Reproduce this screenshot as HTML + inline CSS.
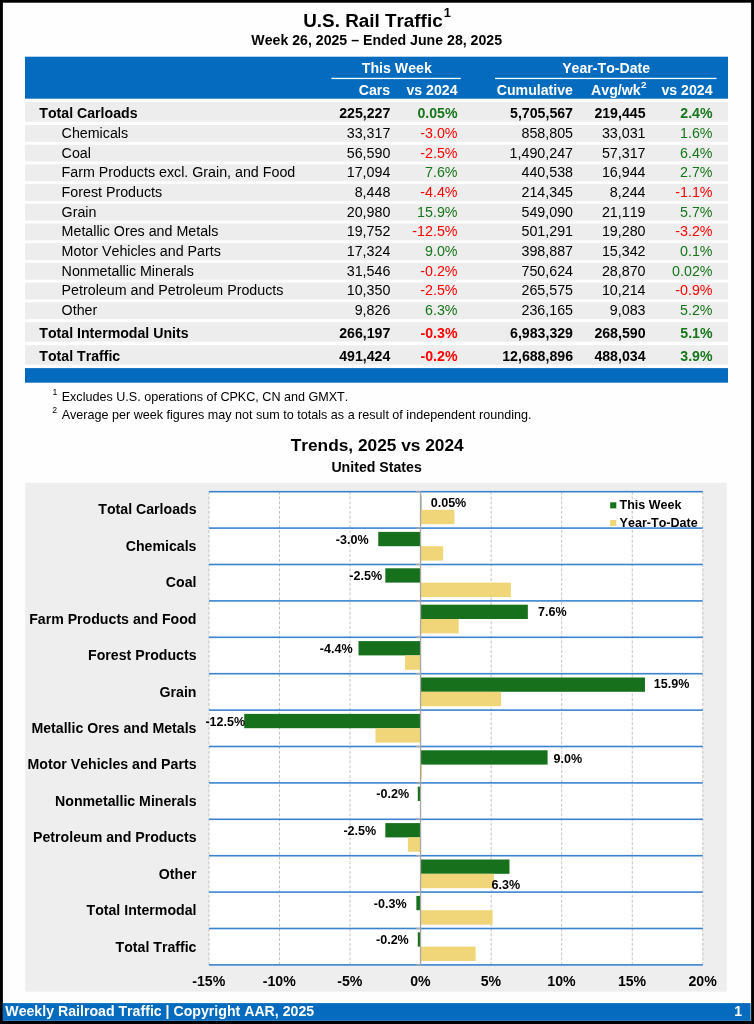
<!DOCTYPE html>
<html><head><meta charset="utf-8"><title>U.S. Rail Traffic</title>
<style>
html,body{margin:0;padding:0;}
body{width:754px;height:1024px;position:relative;overflow:hidden;background:#fefefe;font-family:"Liberation Sans",sans-serif;}
.t{position:absolute;white-space:nowrap;font-kerning:none;}
#txt{position:absolute;left:0;top:0;width:754px;height:1024px;will-change:transform;}
sup{font-size:62%;vertical-align:baseline;position:relative;top:-0.5em;line-height:0;}
</style></head><body>
<svg width="754" height="1024" viewBox="0 0 754 1024" style="position:absolute;left:0;top:0">
<rect x="0.00" y="0.00" width="754.00" height="2.70" fill="#000"/>
<rect x="0.00" y="0.00" width="2.90" height="1024.00" fill="#000"/>
<rect x="751.10" y="0.00" width="2.90" height="1024.00" fill="#000"/>
<rect x="0.00" y="1020.80" width="754.00" height="3.20" fill="#000"/>
<rect x="25.00" y="56.70" width="703.00" height="42.00" fill="#046bbf"/>
<rect x="331.40" y="77.80" width="129.40" height="1.30" fill="#fff"/>
<rect x="495.00" y="77.80" width="221.50" height="1.30" fill="#fff"/>
<rect x="25.00" y="102.00" width="703.00" height="19.80" fill="#ededed"/>
<rect x="25.00" y="125.00" width="703.00" height="16.80" fill="#ededed"/>
<rect x="25.00" y="144.70" width="703.00" height="16.80" fill="#ededed"/>
<rect x="25.00" y="164.40" width="703.00" height="16.80" fill="#ededed"/>
<rect x="25.00" y="184.10" width="703.00" height="16.80" fill="#ededed"/>
<rect x="25.00" y="203.80" width="703.00" height="16.80" fill="#ededed"/>
<rect x="25.00" y="223.50" width="703.00" height="16.80" fill="#ededed"/>
<rect x="25.00" y="243.20" width="703.00" height="16.80" fill="#ededed"/>
<rect x="25.00" y="262.90" width="703.00" height="16.80" fill="#ededed"/>
<rect x="25.00" y="282.60" width="703.00" height="16.80" fill="#ededed"/>
<rect x="25.00" y="302.30" width="703.00" height="16.80" fill="#ededed"/>
<rect x="25.00" y="322.20" width="703.00" height="19.50" fill="#ededed"/>
<rect x="25.00" y="345.20" width="703.00" height="19.50" fill="#ededed"/>
<rect x="25.00" y="368.10" width="703.00" height="14.60" fill="#046bbf"/>
<rect x="25.20" y="482.80" width="701.60" height="508.90" fill="#eeeeee"/>
<rect x="208.95" y="491.70" width="493.85" height="473.20" fill="#fff"/>
<line x1="208.95" y1="491.70" x2="208.95" y2="964.90" stroke="#c2c2c2" stroke-width="1" stroke-dasharray="3 1.8"/>
<line x1="279.50" y1="491.70" x2="279.50" y2="964.90" stroke="#c2c2c2" stroke-width="1" stroke-dasharray="3 1.8"/>
<line x1="350.05" y1="491.70" x2="350.05" y2="964.90" stroke="#c2c2c2" stroke-width="1" stroke-dasharray="3 1.8"/>
<line x1="491.15" y1="491.70" x2="491.15" y2="964.90" stroke="#c2c2c2" stroke-width="1" stroke-dasharray="3 1.8"/>
<line x1="561.70" y1="491.70" x2="561.70" y2="964.90" stroke="#c2c2c2" stroke-width="1" stroke-dasharray="3 1.8"/>
<line x1="632.25" y1="491.70" x2="632.25" y2="964.90" stroke="#c2c2c2" stroke-width="1" stroke-dasharray="3 1.8"/>
<line x1="702.80" y1="491.70" x2="702.80" y2="964.90" stroke="#c2c2c2" stroke-width="1" stroke-dasharray="3 1.8"/>
<rect x="208.95" y="490.90" width="493.85" height="1.60" fill="#3a83d0"/>
<rect x="208.95" y="527.30" width="493.85" height="1.60" fill="#3a83d0"/>
<rect x="208.95" y="563.70" width="493.85" height="1.60" fill="#3a83d0"/>
<rect x="208.95" y="600.10" width="493.85" height="1.60" fill="#3a83d0"/>
<rect x="208.95" y="636.50" width="493.85" height="1.60" fill="#3a83d0"/>
<rect x="208.95" y="672.90" width="493.85" height="1.60" fill="#3a83d0"/>
<rect x="208.95" y="709.30" width="493.85" height="1.60" fill="#3a83d0"/>
<rect x="208.95" y="745.70" width="493.85" height="1.60" fill="#3a83d0"/>
<rect x="208.95" y="782.10" width="493.85" height="1.60" fill="#3a83d0"/>
<rect x="208.95" y="818.50" width="493.85" height="1.60" fill="#3a83d0"/>
<rect x="208.95" y="854.90" width="493.85" height="1.60" fill="#3a83d0"/>
<rect x="208.95" y="891.30" width="493.85" height="1.60" fill="#3a83d0"/>
<rect x="208.95" y="927.70" width="493.85" height="1.60" fill="#3a83d0"/>
<rect x="208.95" y="964.10" width="493.85" height="1.60" fill="#3a83d0"/>
<rect x="420.60" y="495.50" width="0.71" height="14.30" fill="#16701c"/>
<rect x="420.60" y="509.80" width="33.86" height="14.40" fill="#f0d678"/>
<rect x="378.27" y="531.90" width="42.33" height="14.30" fill="#16701c"/>
<rect x="420.60" y="546.20" width="22.58" height="14.40" fill="#f0d678"/>
<rect x="385.33" y="568.30" width="35.27" height="14.30" fill="#16701c"/>
<rect x="420.60" y="582.60" width="90.30" height="14.40" fill="#f0d678"/>
<rect x="420.60" y="604.70" width="107.24" height="14.30" fill="#16701c"/>
<rect x="420.60" y="619.00" width="38.10" height="14.40" fill="#f0d678"/>
<rect x="358.52" y="641.10" width="62.08" height="14.30" fill="#16701c"/>
<rect x="405.08" y="655.40" width="15.52" height="14.40" fill="#f0d678"/>
<rect x="420.60" y="677.50" width="224.35" height="14.30" fill="#16701c"/>
<rect x="420.60" y="691.80" width="80.43" height="14.40" fill="#f0d678"/>
<rect x="244.23" y="713.90" width="176.38" height="14.30" fill="#16701c"/>
<rect x="375.45" y="728.20" width="45.15" height="14.40" fill="#f0d678"/>
<rect x="420.60" y="750.30" width="126.99" height="14.30" fill="#16701c"/>
<rect x="420.60" y="764.60" width="1.41" height="14.40" fill="#f0d678"/>
<rect x="417.78" y="786.70" width="2.82" height="14.30" fill="#16701c"/>
<rect x="420.60" y="801.00" width="0.28" height="14.40" fill="#f0d678"/>
<rect x="385.33" y="823.10" width="35.27" height="14.30" fill="#16701c"/>
<rect x="407.90" y="837.40" width="12.70" height="14.40" fill="#f0d678"/>
<rect x="420.60" y="859.50" width="88.89" height="14.30" fill="#16701c"/>
<rect x="420.60" y="873.80" width="73.37" height="14.40" fill="#f0d678"/>
<rect x="416.37" y="895.90" width="4.23" height="14.30" fill="#16701c"/>
<rect x="420.60" y="910.20" width="71.96" height="14.40" fill="#f0d678"/>
<rect x="417.78" y="932.30" width="2.82" height="14.30" fill="#16701c"/>
<rect x="420.60" y="946.60" width="55.03" height="14.40" fill="#f0d678"/>
<rect x="419.90" y="491.70" width="1.30" height="473.20" fill="#a6a6a6"/>
<rect x="416.10" y="491.10" width="4.50" height="1.20" fill="#a6a6a6"/>
<rect x="416.10" y="527.50" width="4.50" height="1.20" fill="#a6a6a6"/>
<rect x="416.10" y="563.90" width="4.50" height="1.20" fill="#a6a6a6"/>
<rect x="416.10" y="600.30" width="4.50" height="1.20" fill="#a6a6a6"/>
<rect x="416.10" y="636.70" width="4.50" height="1.20" fill="#a6a6a6"/>
<rect x="416.10" y="673.10" width="4.50" height="1.20" fill="#a6a6a6"/>
<rect x="416.10" y="709.50" width="4.50" height="1.20" fill="#a6a6a6"/>
<rect x="416.10" y="745.90" width="4.50" height="1.20" fill="#a6a6a6"/>
<rect x="416.10" y="782.30" width="4.50" height="1.20" fill="#a6a6a6"/>
<rect x="416.10" y="818.70" width="4.50" height="1.20" fill="#a6a6a6"/>
<rect x="416.10" y="855.10" width="4.50" height="1.20" fill="#a6a6a6"/>
<rect x="416.10" y="891.50" width="4.50" height="1.20" fill="#a6a6a6"/>
<rect x="416.10" y="927.90" width="4.50" height="1.20" fill="#a6a6a6"/>
<rect x="416.10" y="964.30" width="4.50" height="1.20" fill="#a6a6a6"/>
<rect x="610.20" y="502.30" width="6.10" height="6.10" fill="#16701c"/>
<rect x="610.20" y="520.00" width="6.10" height="6.10" fill="#f0d678"/>
<rect x="2.90" y="1003.10" width="747.70" height="17.70" fill="#046bbf"/>
</svg>
<div id="txt">
<div class="t" style="top:10.48px;font-size:18.87px;line-height:22.64px;color:#000;font-weight:bold;left:177.00px;width:400px;text-align:center;">U.S. Rail Traffic<sup style="font-size:68%;top:-0.83em;margin-left:1px">1</sup></div>
<div class="t" style="top:31.81px;font-size:14.15px;line-height:16.98px;color:#000;font-weight:bold;left:176.70px;width:400px;text-align:center;">Week 26, 2025 – Ended June 28, 2025</div>
<div class="t" style="top:59.81px;font-size:14.15px;line-height:16.98px;color:#fff;font-weight:bold;left:196.80px;width:400px;text-align:center;">This Week</div>
<div class="t" style="top:59.81px;font-size:14.15px;line-height:16.98px;color:#fff;font-weight:bold;left:406.20px;width:400px;text-align:center;">Year-To-Date</div>
<div class="t" style="top:81.81px;font-size:14.15px;line-height:16.98px;color:#fff;font-weight:bold;right:363.80px;text-align:right;">Cars</div>
<div class="t" style="top:81.81px;font-size:14.15px;line-height:16.98px;color:#fff;font-weight:bold;right:296.50px;text-align:right;">vs 2024</div>
<div class="t" style="top:81.81px;font-size:14.15px;line-height:16.98px;color:#fff;font-weight:bold;right:181.00px;text-align:right;">Cumulative</div>
<div class="t" style="top:81.81px;font-size:14.15px;line-height:16.98px;color:#fff;font-weight:bold;right:107.40px;text-align:right;">Avg/wk<sup style="font-size:70%;top:-0.64em;margin-left:0.5px">2</sup></div>
<div class="t" style="top:81.81px;font-size:14.15px;line-height:16.98px;color:#fff;font-weight:bold;right:41.50px;text-align:right;">vs 2024</div>
<div class="t" style="top:104.81px;font-size:14.15px;line-height:16.98px;color:#000;font-weight:bold;left:39.30px;">Total Carloads</div>
<div class="t" style="top:104.81px;font-size:14.15px;line-height:16.98px;color:#000;font-weight:bold;right:363.70px;text-align:right;">225,227</div>
<div class="t" style="top:104.81px;font-size:14.15px;line-height:16.98px;color:#16761a;font-weight:bold;right:296.50px;text-align:right;">0.05%</div>
<div class="t" style="top:104.81px;font-size:14.15px;line-height:16.98px;color:#000;font-weight:bold;right:181.00px;text-align:right;">5,705,567</div>
<div class="t" style="top:104.81px;font-size:14.15px;line-height:16.98px;color:#000;font-weight:bold;right:108.50px;text-align:right;">219,445</div>
<div class="t" style="top:104.81px;font-size:14.15px;line-height:16.98px;color:#16761a;font-weight:bold;right:41.50px;text-align:right;">2.4%</div>
<div class="t" style="top:124.75px;font-size:14.25px;line-height:17.1px;color:#000;left:61.60px;">Chemicals</div>
<div class="t" style="top:124.75px;font-size:14.25px;line-height:17.1px;color:#000;right:363.70px;text-align:right;">33,317</div>
<div class="t" style="top:124.75px;font-size:14.25px;line-height:17.1px;color:#ff0000;right:296.50px;text-align:right;">-3.0%</div>
<div class="t" style="top:124.75px;font-size:14.25px;line-height:17.1px;color:#000;right:181.00px;text-align:right;">858,805</div>
<div class="t" style="top:124.75px;font-size:14.25px;line-height:17.1px;color:#000;right:108.50px;text-align:right;">33,031</div>
<div class="t" style="top:124.75px;font-size:14.25px;line-height:17.1px;color:#16761a;right:41.50px;text-align:right;">1.6%</div>
<div class="t" style="top:144.75px;font-size:14.25px;line-height:17.1px;color:#000;left:61.60px;">Coal</div>
<div class="t" style="top:144.75px;font-size:14.25px;line-height:17.1px;color:#000;right:363.70px;text-align:right;">56,590</div>
<div class="t" style="top:144.75px;font-size:14.25px;line-height:17.1px;color:#ff0000;right:296.50px;text-align:right;">-2.5%</div>
<div class="t" style="top:144.75px;font-size:14.25px;line-height:17.1px;color:#000;right:181.00px;text-align:right;">1,490,247</div>
<div class="t" style="top:144.75px;font-size:14.25px;line-height:17.1px;color:#000;right:108.50px;text-align:right;">57,317</div>
<div class="t" style="top:144.75px;font-size:14.25px;line-height:17.1px;color:#16761a;right:41.50px;text-align:right;">6.4%</div>
<div class="t" style="top:163.75px;font-size:14.25px;line-height:17.1px;color:#000;left:61.60px;">Farm Products excl. Grain, and Food</div>
<div class="t" style="top:163.75px;font-size:14.25px;line-height:17.1px;color:#000;right:363.70px;text-align:right;">17,094</div>
<div class="t" style="top:163.75px;font-size:14.25px;line-height:17.1px;color:#16761a;right:296.50px;text-align:right;">7.6%</div>
<div class="t" style="top:163.75px;font-size:14.25px;line-height:17.1px;color:#000;right:181.00px;text-align:right;">440,538</div>
<div class="t" style="top:163.75px;font-size:14.25px;line-height:17.1px;color:#000;right:108.50px;text-align:right;">16,944</div>
<div class="t" style="top:163.75px;font-size:14.25px;line-height:17.1px;color:#16761a;right:41.50px;text-align:right;">2.7%</div>
<div class="t" style="top:183.75px;font-size:14.25px;line-height:17.1px;color:#000;left:61.60px;">Forest Products</div>
<div class="t" style="top:183.75px;font-size:14.25px;line-height:17.1px;color:#000;right:363.70px;text-align:right;">8,448</div>
<div class="t" style="top:183.75px;font-size:14.25px;line-height:17.1px;color:#ff0000;right:296.50px;text-align:right;">-4.4%</div>
<div class="t" style="top:183.75px;font-size:14.25px;line-height:17.1px;color:#000;right:181.00px;text-align:right;">214,345</div>
<div class="t" style="top:183.75px;font-size:14.25px;line-height:17.1px;color:#000;right:108.50px;text-align:right;">8,244</div>
<div class="t" style="top:183.75px;font-size:14.25px;line-height:17.1px;color:#ff0000;right:41.50px;text-align:right;">-1.1%</div>
<div class="t" style="top:203.75px;font-size:14.25px;line-height:17.1px;color:#000;left:61.60px;">Grain</div>
<div class="t" style="top:203.75px;font-size:14.25px;line-height:17.1px;color:#000;right:363.70px;text-align:right;">20,980</div>
<div class="t" style="top:203.75px;font-size:14.25px;line-height:17.1px;color:#16761a;right:296.50px;text-align:right;">15.9%</div>
<div class="t" style="top:203.75px;font-size:14.25px;line-height:17.1px;color:#000;right:181.00px;text-align:right;">549,090</div>
<div class="t" style="top:203.75px;font-size:14.25px;line-height:17.1px;color:#000;right:108.50px;text-align:right;">21,119</div>
<div class="t" style="top:203.75px;font-size:14.25px;line-height:17.1px;color:#16761a;right:41.50px;text-align:right;">5.7%</div>
<div class="t" style="top:222.75px;font-size:14.25px;line-height:17.1px;color:#000;left:61.60px;">Metallic Ores and Metals</div>
<div class="t" style="top:222.75px;font-size:14.25px;line-height:17.1px;color:#000;right:363.70px;text-align:right;">19,752</div>
<div class="t" style="top:222.75px;font-size:14.25px;line-height:17.1px;color:#ff0000;right:296.50px;text-align:right;">-12.5%</div>
<div class="t" style="top:222.75px;font-size:14.25px;line-height:17.1px;color:#000;right:181.00px;text-align:right;">501,291</div>
<div class="t" style="top:222.75px;font-size:14.25px;line-height:17.1px;color:#000;right:108.50px;text-align:right;">19,280</div>
<div class="t" style="top:222.75px;font-size:14.25px;line-height:17.1px;color:#ff0000;right:41.50px;text-align:right;">-3.2%</div>
<div class="t" style="top:242.75px;font-size:14.25px;line-height:17.1px;color:#000;left:61.60px;">Motor Vehicles and Parts</div>
<div class="t" style="top:242.75px;font-size:14.25px;line-height:17.1px;color:#000;right:363.70px;text-align:right;">17,324</div>
<div class="t" style="top:242.75px;font-size:14.25px;line-height:17.1px;color:#16761a;right:296.50px;text-align:right;">9.0%</div>
<div class="t" style="top:242.75px;font-size:14.25px;line-height:17.1px;color:#000;right:181.00px;text-align:right;">398,887</div>
<div class="t" style="top:242.75px;font-size:14.25px;line-height:17.1px;color:#000;right:108.50px;text-align:right;">15,342</div>
<div class="t" style="top:242.75px;font-size:14.25px;line-height:17.1px;color:#16761a;right:41.50px;text-align:right;">0.1%</div>
<div class="t" style="top:262.75px;font-size:14.25px;line-height:17.1px;color:#000;left:61.60px;">Nonmetallic Minerals</div>
<div class="t" style="top:262.75px;font-size:14.25px;line-height:17.1px;color:#000;right:363.70px;text-align:right;">31,546</div>
<div class="t" style="top:262.75px;font-size:14.25px;line-height:17.1px;color:#ff0000;right:296.50px;text-align:right;">-0.2%</div>
<div class="t" style="top:262.75px;font-size:14.25px;line-height:17.1px;color:#000;right:181.00px;text-align:right;">750,624</div>
<div class="t" style="top:262.75px;font-size:14.25px;line-height:17.1px;color:#000;right:108.50px;text-align:right;">28,870</div>
<div class="t" style="top:262.75px;font-size:14.25px;line-height:17.1px;color:#16761a;right:41.50px;text-align:right;">0.02%</div>
<div class="t" style="top:281.75px;font-size:14.25px;line-height:17.1px;color:#000;left:61.60px;">Petroleum and Petroleum Products</div>
<div class="t" style="top:281.75px;font-size:14.25px;line-height:17.1px;color:#000;right:363.70px;text-align:right;">10,350</div>
<div class="t" style="top:281.75px;font-size:14.25px;line-height:17.1px;color:#ff0000;right:296.50px;text-align:right;">-2.5%</div>
<div class="t" style="top:281.75px;font-size:14.25px;line-height:17.1px;color:#000;right:181.00px;text-align:right;">265,575</div>
<div class="t" style="top:281.75px;font-size:14.25px;line-height:17.1px;color:#000;right:108.50px;text-align:right;">10,214</div>
<div class="t" style="top:281.75px;font-size:14.25px;line-height:17.1px;color:#ff0000;right:41.50px;text-align:right;">-0.9%</div>
<div class="t" style="top:301.75px;font-size:14.25px;line-height:17.1px;color:#000;left:61.60px;">Other</div>
<div class="t" style="top:301.75px;font-size:14.25px;line-height:17.1px;color:#000;right:363.70px;text-align:right;">9,826</div>
<div class="t" style="top:301.75px;font-size:14.25px;line-height:17.1px;color:#16761a;right:296.50px;text-align:right;">6.3%</div>
<div class="t" style="top:301.75px;font-size:14.25px;line-height:17.1px;color:#000;right:181.00px;text-align:right;">236,165</div>
<div class="t" style="top:301.75px;font-size:14.25px;line-height:17.1px;color:#000;right:108.50px;text-align:right;">9,083</div>
<div class="t" style="top:301.75px;font-size:14.25px;line-height:17.1px;color:#16761a;right:41.50px;text-align:right;">5.2%</div>
<div class="t" style="top:324.81px;font-size:14.15px;line-height:16.98px;color:#000;font-weight:bold;left:39.30px;">Total Intermodal Units</div>
<div class="t" style="top:324.81px;font-size:14.15px;line-height:16.98px;color:#000;font-weight:bold;right:363.70px;text-align:right;">266,197</div>
<div class="t" style="top:324.81px;font-size:14.15px;line-height:16.98px;color:#ff0000;font-weight:bold;right:296.50px;text-align:right;">-0.3%</div>
<div class="t" style="top:324.81px;font-size:14.15px;line-height:16.98px;color:#000;font-weight:bold;right:181.00px;text-align:right;">6,983,329</div>
<div class="t" style="top:324.81px;font-size:14.15px;line-height:16.98px;color:#000;font-weight:bold;right:108.50px;text-align:right;">268,590</div>
<div class="t" style="top:324.81px;font-size:14.15px;line-height:16.98px;color:#16761a;font-weight:bold;right:41.50px;text-align:right;">5.1%</div>
<div class="t" style="top:347.81px;font-size:14.15px;line-height:16.98px;color:#000;font-weight:bold;left:39.30px;">Total Traffic</div>
<div class="t" style="top:347.81px;font-size:14.15px;line-height:16.98px;color:#000;font-weight:bold;right:363.70px;text-align:right;">491,424</div>
<div class="t" style="top:347.81px;font-size:14.15px;line-height:16.98px;color:#ff0000;font-weight:bold;right:296.50px;text-align:right;">-0.2%</div>
<div class="t" style="top:347.81px;font-size:14.15px;line-height:16.98px;color:#000;font-weight:bold;right:181.00px;text-align:right;">12,688,896</div>
<div class="t" style="top:347.81px;font-size:14.15px;line-height:16.98px;color:#000;font-weight:bold;right:108.50px;text-align:right;">488,034</div>
<div class="t" style="top:347.81px;font-size:14.15px;line-height:16.98px;color:#16761a;font-weight:bold;right:41.50px;text-align:right;">3.9%</div>
<div class="t" style="top:389.75px;font-size:12.58px;line-height:15.1px;color:#000;left:52.40px;"><sup style="font-size:8.7px;top:-5.3px">1</sup></div>
<div class="t" style="top:389.75px;font-size:12.58px;line-height:15.1px;color:#000;left:61.70px;">Excludes U.S. operations of CPKC, CN and GMXT.</div>
<div class="t" style="top:407.75px;font-size:12.58px;line-height:15.1px;color:#000;left:52.20px;"><sup style="font-size:8.7px;top:-5.3px">2</sup></div>
<div class="t" style="top:407.75px;font-size:12.58px;line-height:15.1px;color:#000;left:61.70px;">Average per week figures may not sum to totals as a result of independent rounding.</div>
<div class="t" style="top:434.93px;font-size:17.29px;line-height:20.75px;color:#000;font-weight:bold;left:177.20px;width:400px;text-align:center;">Trends, 2025 vs 2024</div>
<div class="t" style="top:458.81px;font-size:14.15px;line-height:16.98px;color:#000;font-weight:bold;left:176.60px;width:400px;text-align:center;">United States</div>
<div class="t" style="top:500.81px;font-size:14.15px;line-height:16.98px;color:#000;font-weight:bold;right:557.50px;text-align:right;">Total Carloads</div>
<div class="t" style="top:537.81px;font-size:14.15px;line-height:16.98px;color:#000;font-weight:bold;right:557.50px;text-align:right;">Chemicals</div>
<div class="t" style="top:573.81px;font-size:14.15px;line-height:16.98px;color:#000;font-weight:bold;right:557.50px;text-align:right;">Coal</div>
<div class="t" style="top:610.81px;font-size:14.15px;line-height:16.98px;color:#000;font-weight:bold;right:557.50px;text-align:right;">Farm Products and Food</div>
<div class="t" style="top:646.81px;font-size:14.15px;line-height:16.98px;color:#000;font-weight:bold;right:557.50px;text-align:right;">Forest Products</div>
<div class="t" style="top:683.81px;font-size:14.15px;line-height:16.98px;color:#000;font-weight:bold;right:557.50px;text-align:right;">Grain</div>
<div class="t" style="top:719.81px;font-size:14.15px;line-height:16.98px;color:#000;font-weight:bold;right:557.50px;text-align:right;">Metallic Ores and Metals</div>
<div class="t" style="top:755.81px;font-size:14.15px;line-height:16.98px;color:#000;font-weight:bold;right:557.50px;text-align:right;">Motor Vehicles and Parts</div>
<div class="t" style="top:792.81px;font-size:14.15px;line-height:16.98px;color:#000;font-weight:bold;right:557.50px;text-align:right;">Nonmetallic Minerals</div>
<div class="t" style="top:828.81px;font-size:14.15px;line-height:16.98px;color:#000;font-weight:bold;right:557.50px;text-align:right;">Petroleum and Products</div>
<div class="t" style="top:865.81px;font-size:14.15px;line-height:16.98px;color:#000;font-weight:bold;right:557.50px;text-align:right;">Other</div>
<div class="t" style="top:901.81px;font-size:14.15px;line-height:16.98px;color:#000;font-weight:bold;right:557.50px;text-align:right;">Total Intermodal</div>
<div class="t" style="top:938.81px;font-size:14.15px;line-height:16.98px;color:#000;font-weight:bold;right:557.50px;text-align:right;">Total Traffic</div>
<div class="t" style="top:495.77px;font-size:12.55px;line-height:15.06px;color:#000;font-weight:bold;left:430.70px;">0.05%</div>
<div class="t" style="top:532.77px;font-size:12.55px;line-height:15.06px;color:#000;font-weight:bold;left:335.80px;">-3.0%</div>
<div class="t" style="top:568.77px;font-size:12.55px;line-height:15.06px;color:#000;font-weight:bold;left:349.30px;">-2.5%</div>
<div class="t" style="top:604.77px;font-size:12.55px;line-height:15.06px;color:#000;font-weight:bold;left:538.00px;">7.6%</div>
<div class="t" style="top:641.77px;font-size:12.55px;line-height:15.06px;color:#000;font-weight:bold;left:319.80px;">-4.4%</div>
<div class="t" style="top:676.77px;font-size:12.55px;line-height:15.06px;color:#000;font-weight:bold;left:653.80px;">15.9%</div>
<div class="t" style="top:714.77px;font-size:12.55px;line-height:15.06px;color:#000;font-weight:bold;left:205.40px;">-12.5%</div>
<div class="t" style="top:751.77px;font-size:12.55px;line-height:15.06px;color:#000;font-weight:bold;left:553.60px;">9.0%</div>
<div class="t" style="top:786.77px;font-size:12.55px;line-height:15.06px;color:#000;font-weight:bold;left:376.30px;">-0.2%</div>
<div class="t" style="top:823.77px;font-size:12.55px;line-height:15.06px;color:#000;font-weight:bold;left:343.40px;">-2.5%</div>
<div class="t" style="top:877.77px;font-size:12.55px;line-height:15.06px;color:#000;font-weight:bold;left:491.60px;">6.3%</div>
<div class="t" style="top:896.77px;font-size:12.55px;line-height:15.06px;color:#000;font-weight:bold;left:373.80px;">-0.3%</div>
<div class="t" style="top:932.77px;font-size:12.55px;line-height:15.06px;color:#000;font-weight:bold;left:376.00px;">-0.2%</div>
<div class="t" style="top:497.80px;font-size:12.5px;line-height:15.0px;color:#000;font-weight:bold;left:619.60px;">This Week</div>
<div class="t" style="top:515.77px;font-size:12.55px;line-height:15.06px;color:#000;font-weight:bold;left:619.60px;">Year-To-Date</div>
<div class="t" style="top:972.81px;font-size:14.15px;line-height:16.98px;color:#000;font-weight:bold;left:8.75px;width:400px;text-align:center;">-15%</div>
<div class="t" style="top:972.81px;font-size:14.15px;line-height:16.98px;color:#000;font-weight:bold;left:79.30px;width:400px;text-align:center;">-10%</div>
<div class="t" style="top:972.81px;font-size:14.15px;line-height:16.98px;color:#000;font-weight:bold;left:149.85px;width:400px;text-align:center;">-5%</div>
<div class="t" style="top:972.81px;font-size:14.15px;line-height:16.98px;color:#000;font-weight:bold;left:220.40px;width:400px;text-align:center;">0%</div>
<div class="t" style="top:972.81px;font-size:14.15px;line-height:16.98px;color:#000;font-weight:bold;left:290.95px;width:400px;text-align:center;">5%</div>
<div class="t" style="top:972.81px;font-size:14.15px;line-height:16.98px;color:#000;font-weight:bold;left:361.50px;width:400px;text-align:center;">10%</div>
<div class="t" style="top:972.81px;font-size:14.15px;line-height:16.98px;color:#000;font-weight:bold;left:432.05px;width:400px;text-align:center;">15%</div>
<div class="t" style="top:972.81px;font-size:14.15px;line-height:16.98px;color:#000;font-weight:bold;left:502.60px;width:400px;text-align:center;">20%</div>
<div class="t" style="top:1002.81px;font-size:14.15px;line-height:16.98px;color:#fff;font-weight:bold;left:5.30px;">Weekly Railroad Traffic | Copyright AAR, 2025</div>
<div class="t" style="top:1002.81px;font-size:14.15px;line-height:16.98px;color:#fff;font-weight:bold;right:12.00px;text-align:right;">1</div>
</div>
</body></html>
